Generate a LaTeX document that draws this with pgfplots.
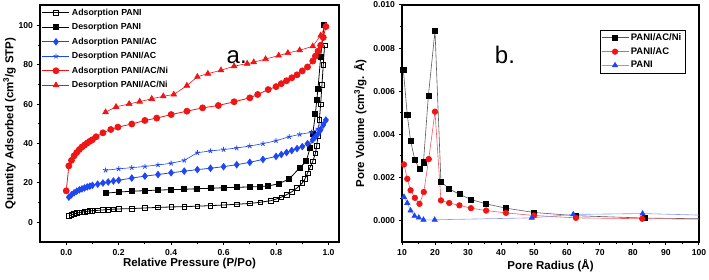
\documentclass[border=0pt]{standalone}
\usepackage{pgfplots}
\pgfplotsset{compat=1.18}
\usepackage{fontspec}
\setmainfont{Liberation Sans}
\definecolor{cred}{RGB}{240,20,20}
\definecolor{cblue}{RGB}{30,70,245}
\definecolor{lblue}{RGB}{140,150,255}
\definecolor{pinkl}{RGB}{245,90,100}
\definecolor{grayl}{RGB}{90,90,90}
\begin{document}
\begin{tikzpicture}
\useasboundingbox (0pt,0pt) rectangle (709pt,280pt);
\pgfplotsset{
  every axis/.append style={
    scale only axis,
    axis line style={line width=1.3pt},
    tick align=outside, tick pos=left,
    major tick length=3.5pt, minor tick length=2pt,
    every tick/.style={black, line width=1pt},
    tick label style={font=\bfseries\fontsize{8.6}{9}\selectfont},
    label style={font=\bfseries\fontsize{11.5}{13}\selectfont},
    /pgf/number format/assume math mode=true,
  },
  legend image code/.code={\draw[mark indices={2}] plot coordinates {(0pt,0pt) (13.5pt,0pt) (27pt,0pt)};}
}
% ---------------- left panel ----------------
\begin{axis}[
  at={(40pt,38pt)}, anchor=south west,
  width=299pt, height=237pt,
  xmin=-0.1, xmax=1.04, ymin=-10, ymax=110.5,
  xtick={0,0.2,0.4,0.6,0.8,1.0}, minor x tick num=1,
  ytick={0,20,40,60,80,100}, minor y tick num=1,
  xticklabel style={/pgf/number format/.cd,fixed,fixed zerofill,precision=1},
  xlabel={Relative Pressure (P/Po)},
  ylabel={Quantity Adsorbed (cm\textsuperscript{3}/g STP)},
  xlabel style={yshift=4pt},
  ylabel style={yshift=-4pt},
  legend style={draw=none, fill=none, at={(0.003,0.997)}, anchor=north west,
    font=\bfseries\fontsize{8.8}{10}\selectfont, row sep=2.6pt, inner sep=1pt},
  legend cell align=left,
]
\addplot[black, line width=0.8pt, mark=square, mark size=2.3pt, mark options={fill=white, line width=0.6pt}] coordinates {
(0.01,3.2)(0.02,3.8)(0.03,4.3)(0.04,4.7)(0.05,5.0)(0.06,5.2)(0.07,5.4)(0.08,5.6)(0.09,5.8)(0.10,5.9)(0.12,6.1)(0.14,6.3)(0.16,6.5)(0.18,6.7)(0.20,6.8)(0.25,7.0)(0.30,7.3)(0.35,7.6)(0.40,7.8)(0.45,8.0)(0.50,8.2)(0.55,8.5)(0.60,8.8)(0.65,9.2)(0.70,9.6)(0.74,10.2)(0.78,11)(0.80,11.8)(0.82,12.8)(0.84,14)(0.86,15.5)(0.88,17.5)(0.90,20)(0.91,22)(0.92,25)(0.93,28)(0.94,31)(0.95,35)(0.955,39)(0.96,44)(0.965,52)(0.97,60)(0.975,70)(0.98,80)(0.985,90)
};
\addlegendentry{Adsorption PANI}
\addplot[black, line width=0.8pt, mark=square*, mark size=2.5pt] coordinates {
(0.15,14.8)(0.2,15.4)(0.25,15.8)(0.3,16.1)(0.35,16.4)(0.4,16.6)(0.45,16.8)(0.5,17.1)(0.55,17.3)(0.6,17.6)(0.65,17.8)(0.7,18.0)(0.74,18.2)(0.77,18.5)(0.81,19.6)(0.85,22)(0.89,27.7)(0.915,31)(0.93,38)(0.94,45)(0.95,55)(0.955,62)(0.96,68)(0.97,84)(0.983,100.5)
};
\addlegendentry{Desorption PANI}
\addplot[cblue, line width=0.8pt, mark=diamond*, mark size=3.2pt] coordinates {
(0.01,12.8)(0.02,14)(0.03,15)(0.04,15.8)(0.05,16.5)(0.06,17)(0.07,17.5)(0.08,18)(0.09,18.4)(0.10,18.8)(0.12,19.4)(0.14,20)(0.16,20.5)(0.18,21)(0.20,21.4)(0.25,22.5)(0.30,23.5)(0.35,24.3)(0.40,25.2)(0.45,26)(0.50,26.8)(0.55,27.5)(0.60,28.3)(0.65,29.3)(0.70,30.5)(0.75,32)(0.80,33.5)(0.82,34.5)(0.84,35.5)(0.86,36.5)(0.88,37.5)(0.90,38.5)(0.92,40)(0.94,42)(0.95,43.5)(0.96,45)(0.97,47)(0.98,49.5)(0.99,52)
};
\addlegendentry{Adsorption PANI/AC}
\addplot[cblue, line width=0.6pt, mark=star, mark size=2.6pt, mark options={line width=0.8pt}] coordinates {
(0.15,26.5)(0.2,27.2)(0.25,27.8)(0.3,28.4)(0.35,29.2)(0.4,30)(0.45,31.5)(0.5,35.4)(0.55,36.3)(0.6,37)(0.65,37.8)(0.7,38.8)(0.75,40)(0.8,41.5)(0.85,43.5)(0.89,44.7)(0.935,45.8)(0.96,47.5)(0.98,50)(0.99,52)
};
\addlegendentry{Desorption PANI/AC}
\addplot[cred, line width=0.8pt, mark=*, mark size=3pt] coordinates {
(0.0,16)(0.01,28.7)(0.02,31.5)(0.03,33.8)(0.04,35.5)(0.05,37)(0.06,38.3)(0.07,39.3)(0.08,40.3)(0.09,41.2)(0.10,42)(0.114,43.5)(0.14,45.5)(0.17,47.2)(0.197,48.4)(0.25,50)(0.30,51.8)(0.345,53)(0.40,54.8)(0.46,56.5)(0.52,58.2)(0.58,59.4)(0.64,61.3)(0.70,63.3)(0.73,65)(0.77,67.5)(0.80,69)(0.82,70.5)(0.84,72)(0.86,73.5)(0.88,75)(0.90,77)(0.92,79)(0.94,82)(0.95,84.5)(0.96,87)(0.97,90)(0.98,94)(0.99,99.5)
};
\addlegendentry{Adsorption PANI/AC/Ni}
\addplot[cred, line width=0.6pt, mark=triangle*, mark size=3.3pt] coordinates {
(0.15,56)(0.19,58.7)(0.24,60.2)(0.28,61.4)(0.326,62.8)(0.37,64.1)(0.41,65)(0.46,69.5)(0.50,74)(0.54,75.6)(0.59,77.3)(0.64,79.4)(0.69,80.7)(0.715,81.4)(0.76,83)(0.81,84.8)(0.845,86.1)(0.89,87.5)(0.94,89.5)(0.97,95)(0.99,100)
};
\addlegendentry{Desorption PANI/AC/Ni}
\node[font=\fontsize{24}{26}\selectfont] at (axis cs:0.65,84) {a.};
\end{axis}
% ---------------- right panel ----------------
\begin{axis}[
  at={(402pt,38pt)}, anchor=south west,
  width=297pt, height=237pt,
  xmin=10, xmax=100, ymin=-0.001, ymax=0.010,
  xtick={10,20,...,100}, minor x tick num=1,
  ytick={0,0.002,0.004,0.006,0.008,0.010}, minor y tick num=1,
  scaled y ticks=false,
  yticklabel style={/pgf/number format/.cd,fixed,fixed zerofill,precision=3},
  xlabel={Pore Radius (Å)},
  ylabel={Pore Volume (cm\textsuperscript{3}/g. Å)},
  xlabel style={yshift=3pt},
  ylabel style={yshift=0pt},
  legend style={draw=black, line width=0.4pt, fill=white, at={(0.953,0.895)}, anchor=north east,
    font=\bfseries\fontsize{9.5}{10.5}\selectfont, row sep=1.5pt, inner sep=1.5pt},
  legend cell align=left,
]
\addplot[grayl, line width=0.6pt, mark=square*, mark size=2.6pt, mark options={black}, mark indices={1,...,17}] coordinates {
(10.4,0.0070)(11.6,0.0049)(12.6,0.0037)(13.9,0.0028)(15.3,0.0024)(16.5,0.0027)(18.0,0.0058)(20.0,0.0088)(21.8,0.0018)(24.3,0.00146)(27.4,0.00122)(30.9,0.00097)(35.5,0.00077)(41.5,0.00057)(50,0.00037)(62.7,0.00022)(83.6,0.00011)(100,0.00008)
};
\addlegendentry{PANI/AC/Ni}
\addplot[pinkl, line width=0.6pt, mark=*, mark size=2.8pt, mark options={cred}, mark indices={1,...,17}] coordinates {
(10.6,0.0026)(11.6,0.00193)(12.6,0.0014)(13.9,0.00105)(15.3,0.00077)(16.6,0.00132)(18.1,0.00285)(20.0,0.00505)(21.8,0.00093)(24.3,0.00081)(27.4,0.0007)(30.9,0.00057)(35.5,0.00046)(41.5,0.00035)(50,0.00023)(62.7,0.00012)(82.8,0.00008)(100,0.00006)
};
\addlegendentry{PANI/AC}
\addplot[lblue, line width=0.6pt, mark=triangle*, mark size=3pt, mark options={cblue}, mark indices={1,...,10}] coordinates {
(10.6,0.00109)(11.6,0.00081)(12.6,0.00046)(13.8,0.00021)(15.1,0.00013)(16.5,0.00003)(19.9,0.00003)(49.3,0.00012)(61.9,0.00028)(82.9,0.00032)(100,0.00025)
};
\addlegendentry{PANI}
\node[font=\fontsize{24}{26}\selectfont] at (axis cs:41.2,0.0077) {b.};
\end{axis}
\end{tikzpicture}
\end{document}
